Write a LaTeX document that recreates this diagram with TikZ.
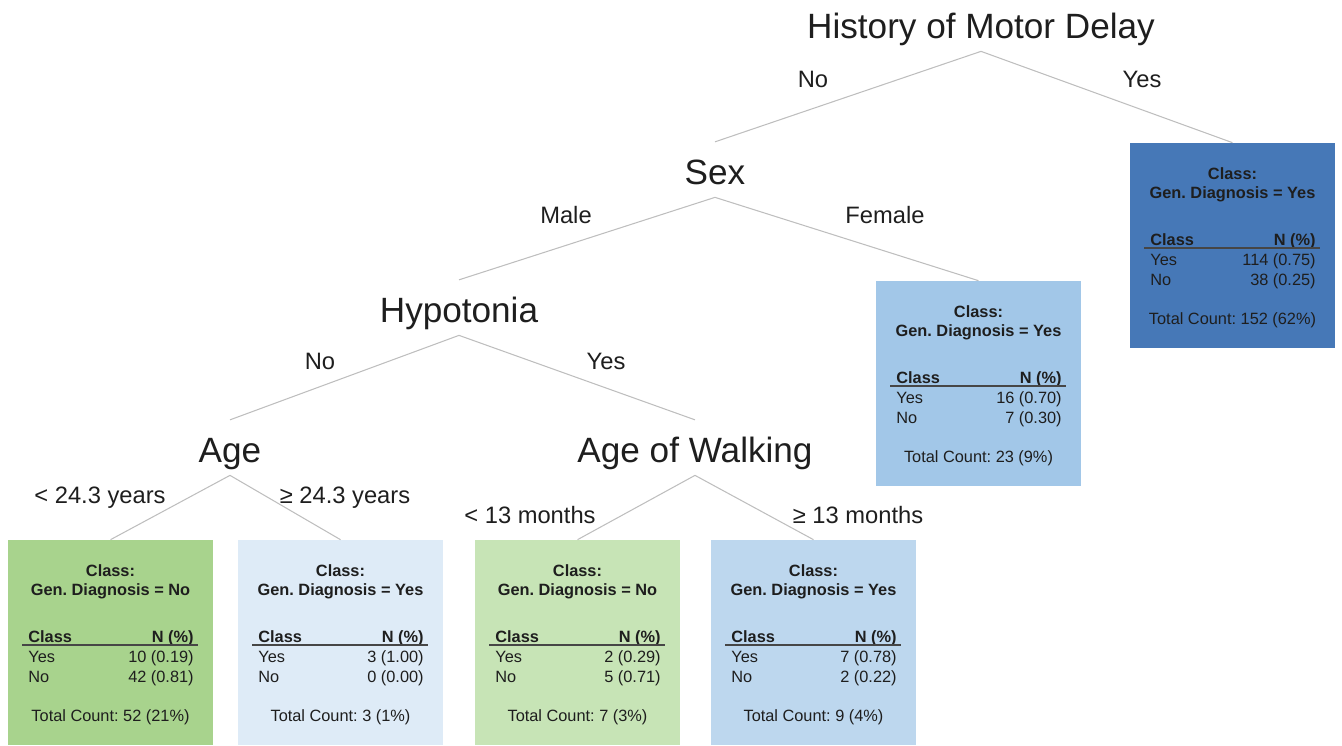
\documentclass[tikz,border=0pt]{standalone}
\usepackage{fontspec}
\setmainfont{Liberation Sans}
\frenchspacing

\definecolor{txt}{RGB}{30,30,30}
\definecolor{linkgray}{RGB}{190,190,190}
\definecolor{rulegray}{RGB}{70,70,70}
\definecolor{darkblue}{RGB}{70,120,183}
\definecolor{midblue}{RGB}{162,199,232}
\definecolor{lightblue}{RGB}{189,215,238}
\definecolor{paleblue}{RGB}{222,235,247}
\definecolor{midgreen}{RGB}{168,211,141}
\definecolor{lightgreen}{RGB}{199,228,182}

% leaf box: name, left, top, fill, class, yes, no, total
\newcommand{\leafbox}[8]{%
  \begin{scope}[shift={(#2,#3)}]
    \node[leaf, fill=#4] (#1) at (102.5,102.5) {};
    \node[boxhead] (#1-title) at (102.5,36) {Class:};
    \node[boxhead] (#1-class) at (102.5,55) {Gen. Diagnosis = #5};
    \node[boxhead, anchor=base west] (#1-hleft) at (20,102) {Class};
    \node[boxhead, anchor=base east] (#1-hright) at (186,102) {N (\%)};
    \draw[rule] (14,105) -- (190,105);
    \node[boxtext, anchor=base west] (#1-yes) at (20,122) {Yes};
    \node[boxtext, anchor=base east] (#1-nyes) at (186,122) {#6};
    \node[boxtext, anchor=base west] (#1-no) at (20,142) {No};
    \node[boxtext, anchor=base east] (#1-nno) at (186,142) {#7};
    \node[boxtext] (#1-total) at (102.5,181) {Total Count: #8};
  \end{scope}}

\begin{document}
\begin{tikzpicture}[x=0.02cm, y=-0.02cm,
        split/.style={font=\fontsize{20}{24}\selectfont, text=txt, inner sep=0pt, text height=23.8pt, text depth=7.4pt, anchor=base},
        edgelabel/.style={font=\fontsize{13.5}{16}\selectfont, text=txt, inner sep=0pt, anchor=base},
        link/.style={draw=linkgray, line width=0.6pt},
        leaf/.style={rectangle, minimum width=4.1cm, minimum height=4.1cm, inner sep=0pt},
        boxhead/.style={font=\fontsize{9.3}{11}\selectfont\bfseries, text=txt, inner sep=0pt, anchor=base},
        boxtext/.style={font=\fontsize{9.3}{11}\selectfont, text=txt, inner sep=0pt, anchor=base},
        rule/.style={draw=rulegray, line width=0.8pt}
    ]
        \useasboundingbox (0,0) rectangle (1342,745);

        % Splits
        \node[split] (root) at (981,38) {History of Motor Delay};
        \node[split] (sex) at (715,184) {Sex};
        \node[split] (hypo) at (459,322) {Hypotonia};
        \node[split] (age) at (230,462) {Age};
        \node[split] (walk) at (695,462) {Age of Walking};

        % Leaves
        \leafbox{yesleaf}{1130}{143}{darkblue}{Yes}{114 (0.75)}{38 (0.25)}{152 (62\%)}
        \leafbox{femleaf}{876}{281}{midblue}{Yes}{16 (0.70)}{7 (0.30)}{23 (9\%)}
        \leafbox{ageyoung}{8}{540}{midgreen}{No}{10 (0.19)}{42 (0.81)}{52 (21\%)}
        \leafbox{ageold}{238}{540}{paleblue}{Yes}{3 (1.00)}{0 (0.00)}{3 (1\%)}
        \leafbox{walkearly}{475}{540}{lightgreen}{No}{2 (0.29)}{5 (0.71)}{7 (3\%)}
        \leafbox{walklate}{711}{540}{lightblue}{Yes}{7 (0.78)}{2 (0.22)}{9 (4\%)}

        % Links
        \draw[link] (root.south) -- (sex.north);
        \draw[link] (root.south) -- (yesleaf.north);
        \draw[link] (sex.south) -- (hypo.north);
        \draw[link] (sex.south) -- (femleaf.north);
        \draw[link] (hypo.south) -- (age.north);
        \draw[link] (hypo.south) -- (walk.north);
        \draw[link] (age.south) -- (ageyoung.north);
        \draw[link] (age.south) -- (ageold.north);
        \draw[link] (walk.south) -- (walkearly.north);
        \draw[link] (walk.south) -- (walklate.north);

        % Branch labels
        \node[edgelabel] (root-no) at (813,87) {No};
        \node[edgelabel] (root-yes) at (1142,87) {Yes};
        \node[edgelabel] (sex-male) at (566,223) {Male};
        \node[edgelabel] (sex-female) at (885,223) {Female};
        \node[edgelabel] (hypo-no) at (320,369) {No};
        \node[edgelabel] (hypo-yes) at (606,369) {Yes};
        \node[edgelabel] (age-lt) at (100,503) {< 24.3 years};
        \node[edgelabel] (age-ge) at (345,503) {≥ 24.3 years};
        \node[edgelabel] (walk-lt) at (530,523) {< 13 months};
        \node[edgelabel] (walk-ge) at (858,523) {≥ 13 months};
    \end{tikzpicture}
\end{document}
